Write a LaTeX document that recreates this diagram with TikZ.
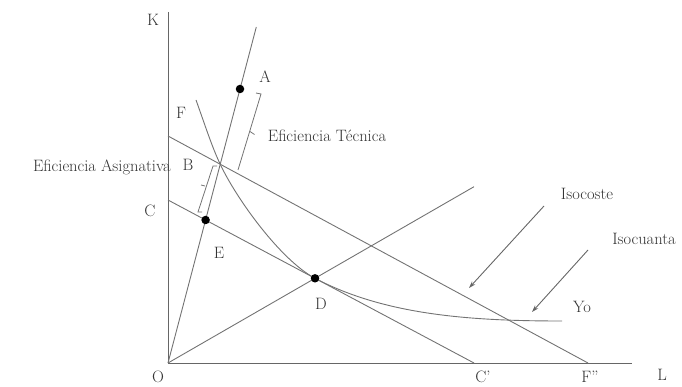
\documentclass[tikz,border=0pt]{standalone}
\usetikzlibrary{arrows.meta}
\begin{document}
\begin{tikzpicture}[x=1pt,y=-1pt,
  ln/.style={draw=black!55,line width=0.9pt},
  ax/.style={draw=black!60,line width=1pt},
  lbl/.style={text=black!80,font=\fontsize{16.5}{19}\selectfont,inner sep=0pt},
  dotpt/.style={fill=black,circle,inner sep=0pt,minimum size=8.5pt},
  arr/.style={draw=black!60,line width=0.9pt,-{Stealth[length=7pt,width=4.5pt]}}]
\useasboundingbox (0,0) rectangle (682,387);
% points
\coordinate (O) at (168,363);
\coordinate (Ktop) at (168,12);
\coordinate (Lend) at (632,363);
\coordinate (Atop) at (256.3,27);
\coordinate (A) at (240,89);
\coordinate (B) at (220.2,164.2);
\coordinate (E) at (205.6,220);
\coordinate (D) at (315,278.3);
\coordinate (ODend) at (474,186.7);
\coordinate (C) at (168,200);
\coordinate (Cp) at (474,363);
\coordinate (Fk) at (168,136);
\coordinate (Fpp) at (588,363);
\coordinate (Fs) at (196,100);
\coordinate (Yend) at (562,321);
% axes
\draw[ax] (Ktop) -- (O) -- (Lend);
% rays
\draw[ln] (O) -- (Atop);
\draw[ln] (O) -- (ODend);
% isocosts
\draw[ln] (C) -- (Cp);
\draw[ln] (Fk) -- (Fpp);
% isoquant
\draw[ln] (Fs) .. controls (205,125) and (212,147) .. (B)
  .. controls (236,198) and (280,259.6) .. (D)
  .. controls (385,315) and (470,321) .. (Yend);
% brackets
\draw[ln,line width=0.8pt] (256,93) -- (261,94) -- (238,170);
\draw[ln,line width=0.8pt] (250,131.5) -- (254.5,134.5);
\draw[ln,line width=0.8pt] (217,166) -- (213,166) -- (198,212) -- (202,212);
\draw[ln,line width=0.8pt] (205,186) -- (201,185);
% dots
\node[dotpt] (dA) at (A) {};
\node[dotpt] (dE) at (E) {};
\node[dotpt] (dD) at (D) {};
% labels
\node[lbl] (lK) at (153,20) {K};
\node[lbl] (lA) at (265,77) {A};
\node[lbl] (lF) at (181,113) {F};
\node[lbl] (lB) at (188,165) {B};
\node[lbl] (lC) at (150,211) {C};
\node[lbl] (lE) at (219,253) {E};
\node[lbl] (lD) at (321,304) {D};
\node[lbl] (lO) at (158,377) {O};
\node[lbl] (lCp) at (483,377) {C'};
\node[lbl] (lFpp) at (590,377) {F''};
\node[lbl] (lL) at (662,375) {L};
\node[lbl] (lYo) at (582,307) {Yo};
\node[lbl] (lTec) at (327,136) {Eficiencia Técnica};
\node[lbl,anchor=east] (lAsig) at (171,167) {Eficiencia Asignativa};
\node[lbl] (lIsocoste) at (587,194) {Isocoste};
\node[lbl] (lIsocuanta) at (644,239) {Isocuanta};
% arrows
\coordinate (a1s) at (544,206);
\coordinate (a1e) at (469,288);
\coordinate (a2s) at (588,250);
\coordinate (a2e) at (532,312);
\draw[arr] (a1s) -- (a1e);
\draw[arr] (a2s) -- (a2e);
\end{tikzpicture}
\end{document}
